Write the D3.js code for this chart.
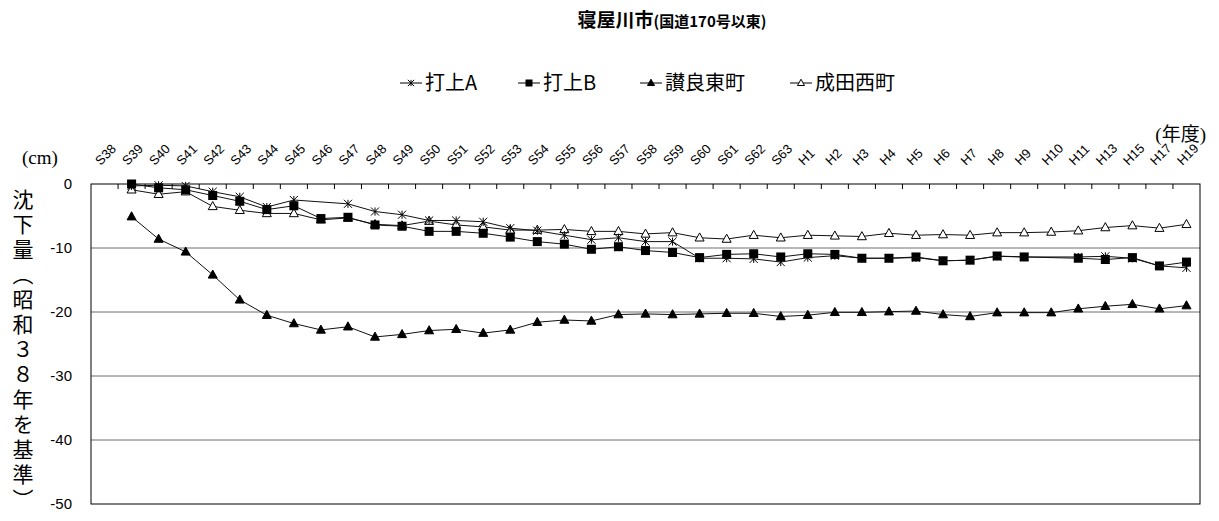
<!DOCTYPE html>
<html>
<head>
<meta charset="utf-8">
<script src="https://cdn.jsdelivr.net/npm/d3@7"></script>
<style>
  body { margin: 0; background: #fff; }
  svg { display: block; }
</style>
</head>
<body>
<div id="chart"></div>
<script>
// --- Data (cm, relative to S38) ---
const years = [
  "S38","S39","S40","S41","S42","S43","S44","S45","S46","S47","S48","S49","S50",
  "S51","S52","S53","S54","S55","S56","S57","S58","S59","S60","S61","S62","S63",
  "H1","H2","H3","H4","H5","H6","H7","H8","H9","H10","H11","H13","H15","H17","H19"
];

const uchiageA = [
  null, -0.3, -0.2, -0.3, -1.2, -2.0, -3.6, -2.5, null, -3.1, -4.3, -4.8, -5.7,
  -5.7, -5.9, -6.9, -7.3, -8.0, -8.7, -8.4, -9.0, -9.0, -11.6, -11.6, -11.7, -12.2,
  -11.5, -11.2, -11.6, -11.6, -11.5, -12.0, -11.9, -11.3, -11.4, null, -11.4, -11.3, -11.6, -12.8, -13.1
];

const uchiageB = [
  null, 0.0, -0.6, -0.9, -1.8, -2.7, -4.0, -3.4, -5.4, -5.2, -6.4, -6.6, -7.4,
  -7.4, -7.7, -8.3, -9.0, -9.4, -10.2, -9.8, -10.4, -10.7, -11.5, -11.0, -10.9, -11.4,
  -10.9, -11.0, -11.6, -11.6, -11.4, -12.0, -11.9, -11.25, -11.4, null, -11.6, -11.8, -11.5, -12.8, -12.2
];

const sanraHigashi = [
  null, -5.1, -8.6, -10.6, -14.2, -18.1, -20.5, -21.8, -22.8, -22.3, -23.9, -23.5, -22.9,
  -22.7, -23.3, -22.8, -21.6, -21.25, -21.4, -20.4, -20.3, -20.4, -20.3, -20.2, -20.2, -20.7,
  -20.5, -20.05, -20.05, -19.95, -19.85, -20.4, -20.7, -20.1, -20.1, -20.1, -19.5, -19.1, -18.8, -19.5, -19.0
];

const naritaNishi = [
  null, -0.9, -1.6, -1.2, -3.5, -4.1, -4.6, -4.6, -5.6, -5.3, -6.3, -6.5, -5.8,
  -6.4, -6.7, -7.2, -7.2, -7.1, -7.4, -7.4, -7.8, -7.6, -8.4, -8.6, -8.0, -8.4,
  -8.0, -8.1, -8.2, -7.7, -8.0, -7.9, -8.0, -7.6, -7.6, -7.5, -7.3, -6.8, -6.5, -6.9, -6.3
];

const yTicks = [0, -10, -20, -30, -40, -50];

const series = [
  { name: "打上A", values: uchiageA, marker: "star" },
  { name: "打上B", values: uchiageB, marker: "square" },
  { name: "讃良東町", values: sanraHigashi, marker: "triFilled" },
  { name: "成田西町", values: naritaNishi, marker: "triOpen" }
];

// --- Configuration ---
const width = 1219, height = 521;
const plot = { left: 91, right: 1200, top: 184, bottom: 504 };
const sansFont = "'Liberation Sans', Arial, 'Noto Sans CJK JP', sans-serif";
const cjkFont = "'Noto Sans CJK JP', sans-serif";
const serifFont = "'Liberation Serif', 'DejaVu Serif', 'Noto Sans CJK JP', serif";

const svg = d3.select("#chart").append("svg")
  .attr("width", width).attr("height", height);

// --- Scales ---
const x = d3.scaleBand().domain(years).range([plot.left, plot.right]);
const y = d3.scaleLinear().domain([-50, 0]).range([plot.bottom, plot.top]);
const cx = d => x(d) + x.bandwidth() / 2;

// --- Title ---
const title = svg.append("text")
  .attr("x", 672).attr("y", 27)
  .attr("text-anchor", "middle")
  .attr("font-family", cjkFont)
  .attr("fill", "#000");
title.append("tspan").attr("font-size", "19px").attr("font-weight", "bold").text("寝屋川市");
title.append("tspan").attr("font-size", "15px").attr("font-weight", "bold").text("(国道170号以東)");

// --- Gridlines ---
svg.append("g").selectAll("line")
  .data(yTicks.filter(v => v !== 0 && v !== -50))
  .join("line")
  .attr("x1", plot.left).attr("x2", plot.right)
  .attr("y1", d => y(d)).attr("y2", d => y(d))
  .attr("stroke", "#6e6e6e").attr("stroke-width", 1);

// --- Frame ---
svg.append("rect")
  .attr("x", plot.left).attr("y", plot.top)
  .attr("width", plot.right - plot.left).attr("height", plot.bottom - plot.top)
  .attr("fill", "none").attr("stroke", "#000").attr("stroke-width", 1);

// top axis: ticks at category boundaries, pointing down
svg.append("g").selectAll("line")
  .data(years.slice(1))
  .join("line")
  .attr("x1", d => x(d)).attr("x2", d => x(d))
  .attr("y1", plot.top).attr("y2", plot.top + 5)
  .attr("stroke", "#000");

// category labels, rotated 45° upward
svg.append("g").attr("class", "x-labels")
  .selectAll("text")
  .data(years)
  .join("text")
  .attr("x", d => cx(d) - 4).attr("y", plot.top - 18)
  .attr("transform", d => `rotate(-45 ${cx(d) - 4} ${plot.top - 18})`)
  .attr("font-family", sansFont)
  .attr("font-size", "13px")
  .attr("fill", "#000")
  .text(d => d);

// --- Y axis ---
const yAxis = d3.axisLeft(y).tickValues(yTicks).tickSize(0).tickPadding(19)
  .tickFormat(d => String(d));
const yG = svg.append("g").attr("transform", `translate(${plot.left},0)`).call(yAxis);
yG.select(".domain").remove();
yG.selectAll("text")
  .attr("font-family", sansFont)
  .attr("font-size", "15px")
  .attr("fill", "#000");

// vertical axis title
svg.append("text")
  .attr("x", 23).attr("y", 189)
  .style("writing-mode", "vertical-rl")
  .attr("font-family", cjkFont)
  .attr("font-size", "21px")
  .attr("letter-spacing", "4px")
  .attr("fill", "#000")
  .text("沈下量（昭和３８年を基準）");

svg.append("text")
  .attr("x", 22).attr("y", 164)
  .attr("font-family", serifFont).attr("font-size", "19px")
  .text("(cm)");

svg.append("text")
  .attr("x", 1206).attr("y", 141)
  .attr("text-anchor", "end")
  .attr("font-family", serifFont).attr("font-size", "19px")
  .text("(年度)");

// --- Markers ---
function drawMarker(g, type, px, py, s) {
  if (type === "square") {
    g.append("rect").attr("x", px - s * 0.5).attr("y", py - s * 0.5)
      .attr("width", s).attr("height", s).attr("fill", "#000");
  } else if (type === "triFilled" || type === "triOpen") {
    const h = s * 0.9;
    g.append("path")
      .attr("d", `M${px},${py - h * 0.6}L${px + s / 2},${py + h * 0.4}L${px - s / 2},${py + h * 0.4}Z`)
      .attr("fill", type === "triFilled" ? "#000" : "#fff")
      .attr("stroke", "#000").attr("stroke-width", 1);
  } else if (type === "star") {
    const r = s * 0.45;
    g.append("path")
      .attr("d", `M${px - r},${py - r}L${px + r},${py + r}M${px - r},${py + r}L${px + r},${py - r}M${px},${py - r}L${px},${py + r}`)
      .attr("fill", "none").attr("stroke", "#000").attr("stroke-width", 1);
  }
}

// --- Lines ---
const line = d3.line().x(d => cx(d.year)).y(d => y(d.value));

// draw in reverse so the upper series sit on top where they overlap
series.slice().reverse().forEach(s => {
  const pts = years.map((yr, i) => ({ year: yr, value: s.values[i] }))
    .filter(d => d.value !== null);
  const g = svg.append("g");
  g.append("path")
    .datum(pts)
    .attr("d", line)
    .attr("fill", "none")
    .attr("stroke", "#111")
    .attr("stroke-width", 1);
  pts.forEach(d => drawMarker(g, s.marker, cx(d.year), y(d.value), 9));
});

// --- Legend ---
const legendX = [400, 518, 640, 790];
const legendY = 83;
series.forEach((s, i) => {
  const g = svg.append("g");
  const lx = legendX[i];
  g.append("line")
    .attr("x1", lx).attr("x2", lx + 22)
    .attr("y1", legendY).attr("y2", legendY)
    .attr("stroke", "#000");
  drawMarker(g, s.marker, lx + 11, legendY, 7);
  g.append("text")
    .attr("x", lx + 25).attr("y", legendY)
    .attr("dy", "0.36em")
    .attr("font-family", cjkFont)
    .attr("font-size", "20px")
    .attr("fill", "#000")
    .text(s.name);
});
</script>
</body>
</html>
